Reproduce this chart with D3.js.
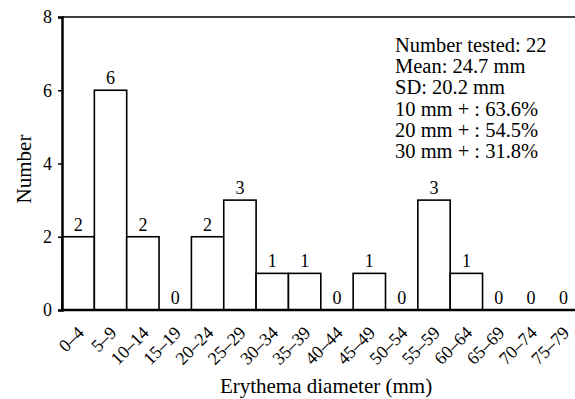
<!DOCTYPE html>
<html>
<head>
<meta charset="utf-8">
<script src="https://cdn.jsdelivr.net/npm/d3@7"></script>
<style>
	body{ margin:0; background:#fff; }
	svg{ display:block; font-family:"Liberation Serif", "DejaVu Serif", serif; }
</style>
</head>
<body>
<div id="chart"></div>
<script>
const bins = ["0-4","5-9","10-14","15-19","20-24","25-29","30-34","35-39","40-44","45-49","50-54","55-59","60-64","65-69","70-74","75-79"];
const counts = [2,6,2,0,2,3,1,1,0,1,0,3,1,0,0,0];
const yTicks = [0,2,4,6,8];
const statLines = ["Number tested: 22","Mean: 24.7 mm","SD: 20.2 mm","10 mm + : 63.6%","20 mm + : 54.5%","30 mm + : 31.8%"];

const width = 575, height = 399;
const plotLeft = 62, plotTop = 17, plotBottom = 310;
const binW = 32.35;

const svg = d3.select("#chart")
	.append("svg")
	.attr("width", width)
	.attr("height", height);

const x = d3.scaleBand()
	.domain(bins)
	.range([plotLeft, plotLeft + binW * bins.length])
	.paddingInner(0);

const y = d3.scaleLinear()
	.domain([0, 8])
	.range([plotBottom, plotTop]);

const barData = counts.map((c, i) => ({ bin: bins[i], count: c }));

// bars
svg.append("g")
	.selectAll("rect")
	.data(barData)
	.join("rect")
		.attr("x", d => x(d.bin))
		.attr("y", d => y(d.count))
		.attr("width", x.bandwidth())
		.attr("height", d => y(0) - y(d.count))
		.attr("fill", "#fff")
		.attr("stroke", "#000")
		.attr("stroke-width", 1.6);

// value labels
svg.append("g")
	.selectAll("text")
	.data(barData)
	.join("text")
		.attr("x", d => x(d.bin) + x.bandwidth() / 2)
		.attr("y", d => y(d.count) - 6)
		.attr("text-anchor", "middle")
		.attr("font-size", 18)
		.text(d => d.count);

// frame top
svg.append("line")
	.attr("x1", plotLeft).attr("x2", width)
	.attr("y1", plotTop).attr("y2", plotTop)
	.attr("stroke", "#000").attr("stroke-width", 1.5);

// y axis
const yAxis = svg.append("g")
	.attr("transform", `translate(${plotLeft},0)`)
	.call(d3.axisLeft(y).tickValues(yTicks).tickSize(4).tickFormat(d3.format("d")));
yAxis.select(".domain").attr("stroke-width", 2.5);
yAxis.selectAll(".tick line").attr("stroke-width", 1.5);
yAxis.selectAll(".tick text")
	.attr("x", -10)
	.attr("font-size", 18)
	.attr("font-family", "Liberation Serif")
	.attr("fill", "#000");

// x axis
const xAxis = svg.append("g")
	.attr("transform", `translate(0,${plotBottom})`)
	.call(d3.axisBottom(x).tickSize(0).tickFormat(d => d.replace("-", "–")));
xAxis.select(".domain").attr("stroke-width", 2.5).attr("d", `M${plotLeft},0H${width}`);
xAxis.selectAll(".tick text")
	.attr("font-size", 18)
	.attr("font-family", "Liberation Serif")
	.attr("fill", "#000")
	.attr("text-anchor", "end")
	.attr("x", 0)
	.attr("y", 0)
	.attr("dy", 0)
	.attr("transform", "translate(7,24) rotate(-45)");

// axis titles
svg.append("text")
	.attr("x", 326)
	.attr("y", 393)
	.attr("text-anchor", "middle")
	.attr("font-size", 21)
	.text("Erythema diameter (mm)");

svg.append("text")
	.attr("transform", "translate(31,169) rotate(-90)")
	.attr("text-anchor", "middle")
	.attr("font-size", 21)
	.text("Number");

// stats box
svg.append("g")
	.selectAll("text")
	.data(statLines)
	.join("text")
		.attr("x", 395)
		.attr("y", (d, i) => 52 + i * 21.2)
		.attr("font-size", 20.5)
		.text(d => d);
</script>
</body>
</html>
